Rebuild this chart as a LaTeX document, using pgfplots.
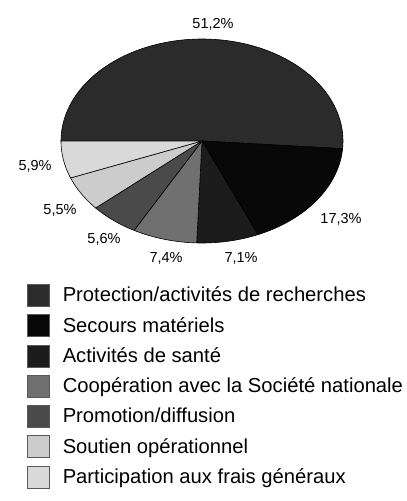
\documentclass[border=0pt]{standalone}
\usepackage{pgfplots}
\pgfplotsset{compat=1.18}
\usepackage{fontspec}
\setmainfont{Liberation Sans}
\definecolor{cProt}{gray}{0.17}
\definecolor{cSec}{gray}{0.03}
\definecolor{cSan}{gray}{0.11}
\definecolor{cCoop}{gray}{0.44}
\definecolor{cProm}{gray}{0.29}
\definecolor{cSout}{gray}{0.80}
\definecolor{cPart}{gray}{0.85}
% #1 = cumulative share before the slice (%), #2 = share (%), #3 = colour
\newcommand\slice[3]{%
  \addplot[fill=#3, draw=black, line width=0.6pt, samples=90, variable=\t,
    domain={180-3.6*(#1+#2)}:{180-3.6*(#1)}]
    ({cos(\t)},{sin(\t)}) -- (axis cs:0,0) -- cycle;}
\begin{document}
\begin{tikzpicture}
\begin{axis}[
  x=141pt, y=102pt,
  xmin=-1.4326, xmax=1.4468, ymin=-3.5294, ymax=1.3824,
  hide axis, clip=false,
  legend image code/.code={\draw[#1, draw=black!65, line width=0.5pt] (0pt,-4.5pt) rectangle (22pt,17.5pt);},
  legend style={at={(axis cs:-1.262,-1.382)}, anchor=north west, draw=none, fill=none,
    font=\fontsize{20.2}{23}\selectfont, row sep=7.5pt,
    nodes={inner sep=0pt, text height=15pt, text depth=5pt, anchor=base west},
    /tikz/every odd column/.append style={column sep=13pt}},
  legend cell align=left,
]
\path (rel axis cs:0,0) rectangle (rel axis cs:1,1);
\slice{0}{51.2}{cProt}
\addlegendentry{Protection/activités de recherches}
\slice{51.2}{17.3}{cSec}
\addlegendentry{Secours matériels}
\slice{68.5}{7.1}{cSan}
\addlegendentry{Activités de santé}
\slice{75.6}{7.4}{cCoop}
\addlegendentry{Coopération avec la Société nationale}
\slice{83.0}{5.6}{cProm}
\addlegendentry{Promotion/diffusion}
\slice{88.6}{5.5}{cSout}
\addlegendentry{Soutien opérationnel}
\slice{94.1}{5.9}{cPart}
\addlegendentry{Participation aux frais généraux}
\begin{scope}[every node/.style={font=\fontsize{14.5}{16}\selectfont}]
\node at (axis cs:0.078,1.147) {51,2\%};
\node at (axis cs:0.986,-0.765) {17,3\%};
\node at (axis cs:0.277,-1.147) {7,1\%};
\node at (axis cs:-0.255,-1.147) {7,4\%};
\node at (axis cs:-0.695,-0.961) {5,6\%};
\node at (axis cs:-1.007,-0.676) {5,5\%};
\node at (axis cs:-1.184,-0.245) {5,9\%};
\end{scope}
\end{axis}
\end{tikzpicture}
\end{document}
